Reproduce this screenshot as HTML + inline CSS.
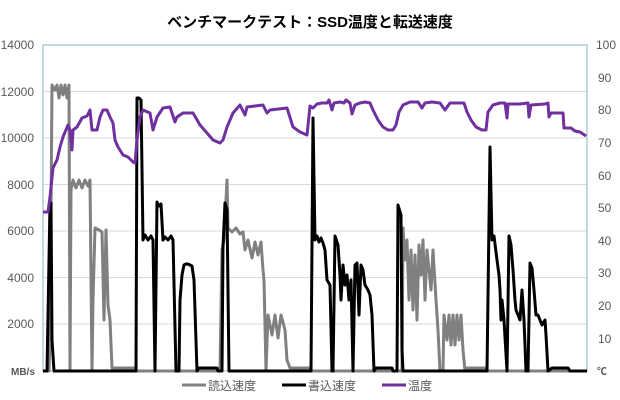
<!DOCTYPE html>
<html><head><meta charset="utf-8"><style>
body{margin:0;background:#fff;}
svg{display:block;font-family:"Liberation Sans","Noto Sans CJK JP",sans-serif;}
</style></head><body>
<svg width="620" height="400" viewBox="0 0 620 400">
<rect width="620" height="400" fill="#fff"/>
<text x="310" y="27" text-anchor="middle" font-size="15" font-weight="bold" fill="#000">ベンチマークテスト：SSD温度と転送速度</text>
<g stroke="#d9d9d9" stroke-width="1">
<line x1="43" x2="587" y1="91.5" y2="91.5"/><line x1="43" x2="587" y1="138" y2="138"/>
<line x1="43" x2="587" y1="184.5" y2="184.5"/><line x1="43" x2="587" y1="231" y2="231"/>
<line x1="43" x2="587" y1="277.5" y2="277.5"/><line x1="43" x2="587" y1="324" y2="324"/>
</g>
<rect x="43" y="45" width="544" height="326" fill="none" stroke="#8ab0c0" stroke-width="1"/>
<line x1="43" x2="587" y1="371" y2="371" stroke="#bfbfbf"/>
<g font-size="12" fill="#595959" text-anchor="end">
<text x="34" y="49">14000</text><text x="34" y="96">12000</text><text x="34" y="142">10000</text>
<text x="34" y="189">8000</text><text x="34" y="235">6000</text><text x="34" y="282">4000</text>
<text x="34" y="328">2000</text>
</g>
<text x="11" y="375" font-size="10" font-weight="bold" fill="#595959">MB/s</text>
<g font-size="12" fill="#595959">
<text x="596" y="49">100</text><text x="598" y="82">90</text><text x="598" y="114">80</text>
<text x="598" y="147">70</text><text x="598" y="180">60</text><text x="598" y="212">50</text>
<text x="598" y="245">40</text><text x="598" y="277">30</text><text x="598" y="310">20</text>
<text x="598" y="343">10</text><text x="597" y="375" font-size="10" font-weight="bold">℃</text>
</g>
<polyline fill="none" stroke="#808080" stroke-width="3" stroke-linejoin="round" points="43,371 49,371 50,340 52,85 55,90 57,85 59,98 61,85 63,95 65,85 67,98 69,85 70,371 71,190 73,180 76,188 79,180 82,188 85,180 88,186 90,180 92,371 93,300 95,228 99,230 102,232 104,320 106,230 108,305 110,320 112,368 135,368 136,371 220,371 222,250 224,240 227,180 228,228 232,232 236,228 240,234 243,232 245,250 248,240 252,258 255,242 258,255 261,242 263,270 264,280 266,371 268,315 272,335 275,315 278,338 281,315 285,330 287,360 290,368 310,368 311,371 402,371 403,228 405,260 407,240 409,300 411,250 413,310 415,255 417,320 419,245 421,275 423,240 425,300 427,250 429,270 431,290 433,250 436,300 438,330 440,371 443,371 444,315 447,340 449,315 451,345 453,315 455,345 457,315 459,340 461,315 463,350 465,371 467,368 485,368 486,371 587,371"/>
<polyline fill="none" stroke="#000" stroke-width="3" stroke-linejoin="round" points="43,371 47,371 49,260 50,203 51,203 52,340 54,371 136,371 137,98 139,98 141,100 143,240 145,235 148,240 151,236 153,240 155,371 157,202 159,206 161,204 163,240 165,237 168,240 171,236 173,240 176,371 179,371 180,300 182,275 184,265 186,264 188,264 190,265 192,266 194,280 197,371 199,368 217,368 218,371 222,371 223,247 225,203 227,210 229,371 311,371 313,118 315,240 317,236 319,242 321,238 323,243 325,250 327,280 330,285 332,371 333,371 335,236 338,245 340,275 341,300 343,265 345,285 347,275 349,300 351,280 353,371 355,265 357,263 359,315 361,265 363,270 365,285 368,290 370,295 372,315 374,371 376,368 392,368 393,371 397,371 398,205 401,215 402,350 403,371 487,371 490,147 492,240 494,236 497,260 499,275 500,290 501,320 502,300 504,320 507,371 509,236 511,245 513,270 515,300 516,310 518,315 520,320 522,290 524,320 526,371 528,371 530,263 532,268 534,290 536,315 538,315 540,320 542,325 545,320 546,335 548,371 552,368 568,368 570,371 587,371"/>
<polyline fill="none" stroke="#7030a0" stroke-width="3" stroke-linejoin="round" points="43,212 48,212 50,197 53,168 57,160 60,147 63,137 68,125 70,130 72,150 73,130 77,127 82,118 87,116 90,110 92,130 97,130 100,117 103,110 107,110 110,117 113,123 115,140 118,147 123,155 128,157 133,162 135,163 137,140 140,117 143,110 150,113 153,130 157,117 163,108 170,107 175,122 177,117 183,113 193,113 200,125 207,133 213,140 220,143 223,140 227,127 233,113 240,105 245,115 247,107 263,105 267,113 270,110 287,108 293,127 300,132 307,135 310,106 313,108 317,104 322,103 327,103 329,100 332,110 334,103 340,102 344,103 346,100 350,103 352,114 355,105 360,103 365,102 370,103 373,110 378,120 383,127 388,130 393,130 396,125 399,112 403,105 410,102 418,102 422,108 425,103 432,102 440,103 445,110 450,103 460,103 464,103 467,112 471,120 476,127 482,130 486,130 488,112 493,105 500,103 505,103 507,118 508,104 520,104 528,103 529,117 531,105 545,104 548,103 549,117 551,113 563,113 564,128 571,128 575,131 580,132 586,136"/>
<g font-size="12" fill="#595959">
<line x1="182" x2="206" y1="385" y2="385" stroke="#808080" stroke-width="3"/>
<text x="208" y="390">読込速度</text>
<line x1="282" x2="306" y1="385" y2="385" stroke="#000" stroke-width="3"/>
<text x="308" y="390">書込速度</text>
<line x1="382" x2="406" y1="385" y2="385" stroke="#7030a0" stroke-width="3"/>
<text x="408" y="390">温度</text>
</g>
</svg>
</body></html>
